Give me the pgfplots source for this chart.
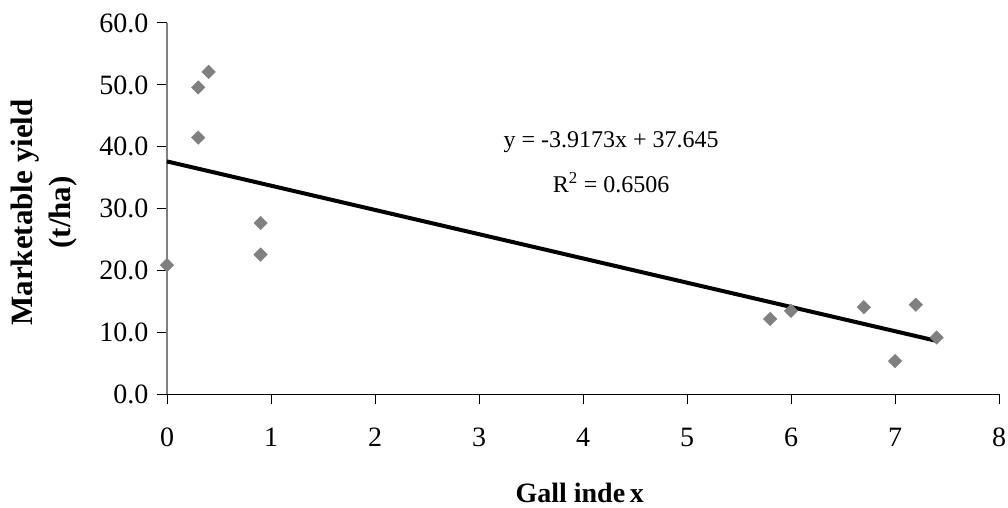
\documentclass[border=0pt]{standalone}
\usepackage{fontspec}
\setmainfont{Liberation Serif}
\usepackage{pgfplots}
\pgfplotsset{compat=1.18}
\begin{document}
\begin{tikzpicture}
\path[use as bounding box] (0,0) rectangle (1008pt,508pt);
\begin{axis}[
  at={(167pt,113.5pt)}, anchor=south west,
  scale only axis, width=832pt, height=371.5pt,
  xmin=0, xmax=8, ymin=0, ymax=60,
  xtick={0,1,...,8}, ytick={0,10,...,60},
  axis x line=bottom, axis y line=left,
  x axis line style={-, black, line width=1pt},
  y axis line style={-, gray, line width=1.2pt},
  tick style={black, line width=1pt},
  major tick length=10pt,
  tick align=outside,
  minor tick num=0,
  /pgf/number format/assume math mode=true,
  yticklabel={\pgfmathprintnumber[fixed,fixed zerofill,precision=1]{\tick}},
  xticklabel={\pgfmathprintnumber{\tick}},
  ticklabel style={font=\fontsize{28}{32}\selectfont},
  yticklabel style={xshift=-5pt},
  xticklabel style={yshift=-20pt},
  xlabel={\textbf{Gall inde\,x}},
  xlabel style={font=\fontsize{28}{32}\selectfont, inner sep=1pt, at={(axis description cs:0.496,-0.265)}, anchor=center},
  ylabel={\textbf{Marketable yield}\\\textbf{(t/ha)}},
  ylabel style={font=\fontsize{31}{38}\selectfont, align=center, at={(axis description cs:-0.148,0.49)}, anchor=center},
  clip=false,
]
\addplot[only marks, mark=square*, mark size=4.8pt, color={rgb,255:red,128;green,128;blue,128}, mark options={rotate=45}] coordinates {
(0.0,20.9) (0.3,49.6) (0.3,41.5) (0.4,52.1) (0.9,27.7) (0.9,22.6)
(5.8,12.2) (6.0,13.5) (6.7,14.1) (7.0,5.4) (7.2,14.5) (7.4,9.2)
};
\addplot[black, line width=4pt] coordinates {(0,37.645) (7.4,8.657)};
\node[font=\fontsize{24}{28}\selectfont] at (axis cs:4.27,40.8) {y = -3.9173x + 37.645};
\node[font=\fontsize{24}{28}\selectfont] at (axis cs:4.27,34.2) {R\textsuperscript{2} = 0.6506};
\end{axis}
\end{tikzpicture}
\end{document}
